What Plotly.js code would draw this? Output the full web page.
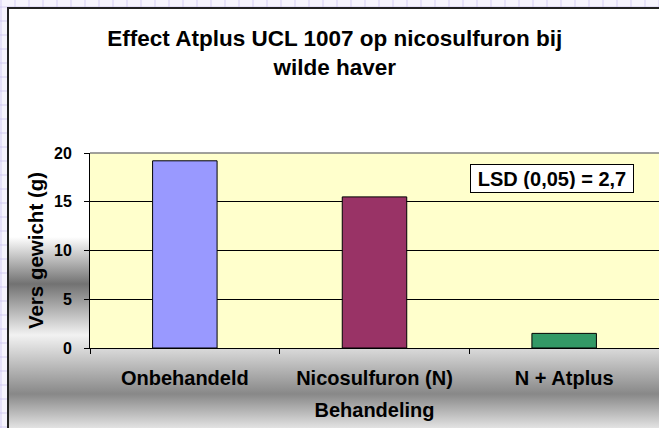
<!DOCTYPE html>
<html>
<head>
<meta charset="utf-8">
<script src="https://cdn.plot.ly/plotly-3.0.1.min.js"></script>
<style>
  html, body { margin: 0; padding: 0; }
  #wrap { position: relative; width: 659px; height: 428px; overflow: hidden;
    background-color: #f6f4fd;
    background-image: repeating-linear-gradient(90deg, rgba(200,190,240,0.35) 0 2px, transparent 2px 14px),
                      repeating-linear-gradient(0deg, rgba(200,190,240,0.35) 0 2px, transparent 2px 14px); }
  #bg { position: absolute; left: 7px; top: 7px; width: 660px; height: 430px;
    border-left: 2px solid #222; border-top: 2px solid #222; box-sizing: border-box;
    background: linear-gradient(180deg, #ffffff 0px, #ffffff 228px, #727272 275px, #f2f2f2 326px, #888888 385px, #e8e8e8 421px); }
  #chart { position: absolute; left: 0; top: 0; width: 659px; height: 428px; }
</style>
</head>
<body>
<div id="wrap">
  <div id="bg"></div>
  <div id="chart"></div>
</div>
<script>
const categories = ["Onbehandeld", "Nicosulfuron (N)", "N + Atplus"];
const values = [19.2, 15.5, 1.5];
const yTicks = [0, 5, 10, 15, 20];
const titleText = "Effect Atplus UCL 1007 op nicosulfuron bij<br>wilde haver";
const xTitle = "Behandeling";
const yTitle = "Vers gewicht (g)";
const lsdText = "LSD (0,05) = 2,7";

const barColors = ["#9999FF", "#993366", "#339966"];
const fontFam = "Liberation Sans, Arial, sans-serif";

const trace = {
  type: "bar",
  x: categories,
  y: values,
  marker: { color: barColors, line: { color: "#000000", width: 1 } },
  hoverinfo: "none"
};

const layout = {
  width: 659, height: 428,
  margin: { l: 90, r: 0, t: 153, b: 80, pad: 0 },
  paper_bgcolor: "rgba(0,0,0,0)",
  plot_bgcolor: "#FFFFCC",
  showlegend: false,
  bargap: 0.66,
  title: {
    text: titleText,
    x: 0.508, xanchor: "center", xref: "container",
    y: 0.893, yanchor: "middle", yref: "container",
    font: { family: fontFam, size: 22.5, weight: "bold", color: "#000" }
  },
  xaxis: {
    type: "category",
    tickson: "boundaries",
    ticks: "outside", ticklen: 5, tickcolor: "#000", tickwidth: 1,
    showline: true, linecolor: "#000", linewidth: 1,
    showgrid: false, zeroline: false,
    ticklabelstandoff: 12,
    tickfont: { family: fontFam, size: 20, weight: "bold", color: "#000" },
    title: { text: xTitle, standoff: 14,
      font: { family: fontFam, size: 20, weight: "bold", color: "#000" } },
    fixedrange: true
  },
  yaxis: {
    range: [0, 20],
    tickvals: yTicks, ticktext: yTicks.map(String),
    ticks: "outside", ticklen: 5, tickcolor: "#000", tickwidth: 1,
    showline: true, linecolor: "#000", linewidth: 1,
    showgrid: true, gridcolor: "#000", gridwidth: 1,
    zeroline: false,
    ticklabelstandoff: 9,
    tickfont: { family: fontFam, size: 16, weight: "bold", color: "#000" },
    title: { text: yTitle, standoff: 4,
      font: { family: fontFam, size: 20.5, weight: "bold", color: "#000" } },
    fixedrange: true
  },
  shapes: [
    { type: "line", xref: "paper", yref: "paper", x0: 0, x1: 1, y0: 1, y1: 1,
      line: { color: "#808080", width: 1.5 } }
  ],
  annotations: [
    { text: lsdText, xref: "paper", yref: "paper", x: 0.812, y: 0.869,
      xanchor: "center", yanchor: "middle", showarrow: false,
      bgcolor: "#ffffff", bordercolor: "#000", borderwidth: 1, borderpad: 3,
      width: 156, height: 21,
      font: { family: fontFam, size: 20, weight: "bold", color: "#000" } }
  ]
};

Plotly.newPlot("chart", [trace], layout, { displayModeBar: false, staticPlot: true });
</script>
</body>
</html>
